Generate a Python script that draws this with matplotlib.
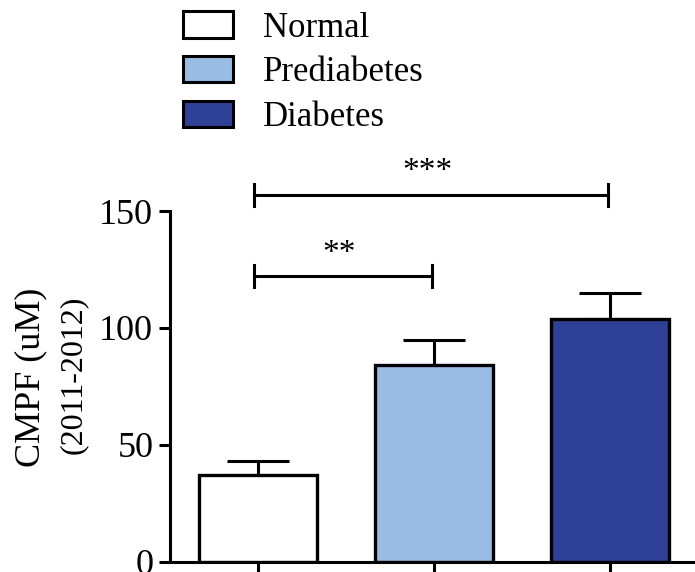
import matplotlib
matplotlib.use("Agg")
import matplotlib.pyplot as plt
from matplotlib.patches import Patch

plt.rcParams["font.family"] = ["Liberation Serif", "DejaVu Serif"]

groups = ["Normal", "Prediabetes", "Diabetes"]
means = [37, 84, 104]
sem = [6, 11, 11]
colors = ["#FFFFFF", "#98BCE3", "#2E4197"]
y_ticks = [0, 50, 100, 150]
# significance comparisons: (group a, group b, bracket height, label)
comparisons = [(0, 1, 122, "**"), (0, 2, 157, "***")]

W, H = 695, 572
fig = plt.figure(figsize=(W / 100, H / 100), dpi=100)
ax = fig.add_axes([170 / W, 10.3 / H, 525 / W, 350.7 / H])

x = list(range(len(groups)))
ax.bar(x, means, width=0.67, color=colors, edgecolor="black", linewidth=2.4, zorder=2)
ax.errorbar(x, means, yerr=[[0] * len(sem), sem], fmt="none", ecolor="black",
            elinewidth=2.2, capsize=22, capthick=2.2, zorder=1)

ax.set_xlim(-0.5, 2.48)
ax.set_ylim(0, 150)
ax.set_yticks(y_ticks)
ax.set_xticks(x)
ax.set_xticklabels([])
for s in ("top", "right"):
    ax.spines[s].set_visible(False)
for s in ("left", "bottom"):
    ax.spines[s].set_linewidth(2.2)
ax.tick_params(axis="y", length=8, width=2.2, labelsize=26, pad=4)
ax.tick_params(axis="x", length=10, width=2.2)

# two-line axis title
fig.text(31 / W, 1 - 377 / H, "CMPF (uM)", rotation=90, fontsize=26,
         ha="center", va="center")
fig.text(73 / W, 1 - 375 / H, "(2011-2012)", rotation=90, fontsize=23,
         ha="center", va="center")

for a, b, h, lab in comparisons:
    xa, xb = a - 0.025, b - 0.015
    ax.plot([xa, xb], [h, h], color="black", lw=2.2, clip_on=False)
    ax.plot([xa, xa], [h - 4.7, h + 4.7], color="black", lw=2.2, clip_on=False)
    ax.plot([xb, xb], [h - 4.7, h + 4.7], color="black", lw=2.2, clip_on=False)
    ax.text((xa + xb) / 2 - 0.02, h + 3.2, lab, ha="center", va="bottom",
            fontsize=24, clip_on=False)

handles = [Patch(facecolor=c, edgecolor="black", linewidth=2.2) for c in colors]
fig.legend(handles, groups, loc="upper left", bbox_to_anchor=(180 / W, 0.986),
           frameon=False, fontsize=25, handlelength=1.44, handleheight=0.78,
           handletextpad=0.85, labelspacing=0.33, borderaxespad=0.0,
           borderpad=0.1)

fig.savefig("out.png", dpi=100)
